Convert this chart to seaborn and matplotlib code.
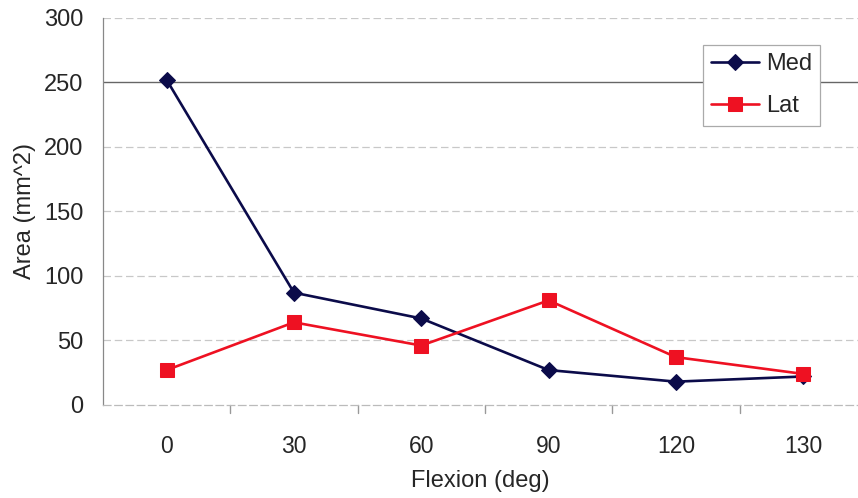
import matplotlib
matplotlib.use("Agg")
import matplotlib.pyplot as plt
import seaborn as sns
import pandas as pd

flexion = ["0", "30", "60", "90", "120", "130"]
med = [252, 87, 67, 27, 18, 22]
lat = [27, 64, 46, 81, 37, 24]
series_names = ["Med", "Lat"]
y_ticks = [0, 50, 100, 150, 200, 250, 300]

df = pd.DataFrame({
    "Flexion": flexion * 2,
    "Area": med + lat,
    "Series": [series_names[0]] * len(flexion) + [series_names[1]] * len(flexion),
})

sns.set_style("white")
plt.rcParams["font.family"] = ["Liberation Sans", "DejaVu Sans"]

fig = plt.figure(figsize=(8.58, 4.98), dpi=100)
ax = fig.add_axes([0.120, 0.187, 0.880, 0.777])

palette = {"Med": "#0b0b4a", "Lat": "#ee1122"}
markers = {"Med": "D", "Lat": "s"}
sizes_m = {"Med": 8.5, "Lat": 10.5}

for name in series_names:
    sub = df[df["Series"] == name]
    sns.lineplot(data=sub, x="Flexion", y="Area", ax=ax, color=palette[name],
                 marker=markers[name], markersize=sizes_m[name],
                 markeredgecolor=palette[name], linewidth=1.9, label=name,
                 sort=False)

ax.set_ylim(0, 300)
ax.set_xlim(-0.5, 5.43)
ax.set_yticks(y_ticks)
ax.set_yticklabels([str(v) for v in y_ticks], fontsize=17)
ax.tick_params(axis="x", labelsize=16.5, length=0, pad=22)
ax.tick_params(axis="y", length=0, pad=14)

# gridlines
for v in y_ticks[1:]:
    if v == 250:
        ax.axhline(v, color="#666666", lw=1.0, zorder=0)
    else:
        ax.axhline(v, color="#c8c8c8", lw=0.9, ls=(0, (6, 3)), zorder=0)

# category boundary ticks on x axis
for b in [0.5, 1.5, 2.5, 3.5, 4.5]:
    ax.plot([b, b], [0, -6], color="#999999", lw=1.0, clip_on=False)

for s in ["top", "right"]:
    ax.spines[s].set_visible(False)
ax.spines["left"].set_color("#888888")
ax.spines["left"].set_linewidth(0.9)
ax.spines["bottom"].set_color("#bbbbbb")
ax.spines["bottom"].set_linewidth(0.9)
ax.spines["bottom"].set_linestyle((0, (6, 3)))

ax.set_xlabel("Flexion (deg)", fontsize=17, labelpad=8)
ax.set_ylabel("Area (mm^2)", fontsize=17, labelpad=6)

leg = ax.legend(loc="upper left", bbox_to_anchor=(0.795, 0.930), fontsize=17,
                frameon=True, fancybox=False, handlelength=2.0,
                borderpad=0.35, labelspacing=0.85, handletextpad=0.3,
                borderaxespad=0)
leg.get_frame().set_edgecolor("#aaaaaa")
leg.get_frame().set_linewidth(0.9)
leg.get_frame().set_facecolor("white")
leg.get_frame().set_alpha(1)

fig.savefig("out.png", dpi=100)
